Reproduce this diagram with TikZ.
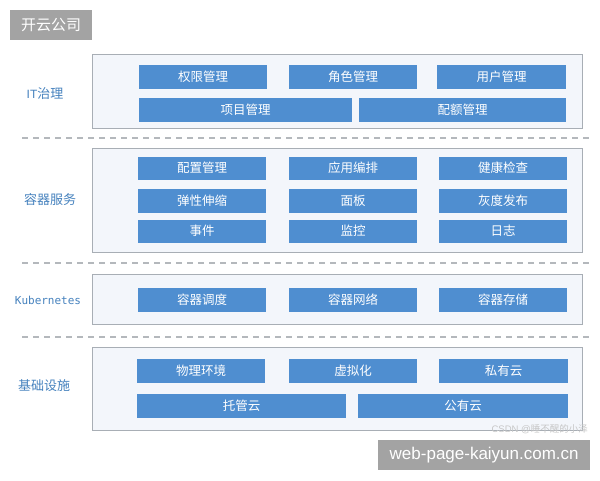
\documentclass[tikz,border=0pt]{standalone}
\usepackage{fontspec}
\setmainfont{Liberation Sans}
\newfontfamily\cjk{Noto Sans CJK SC}
\newfontfamily\monofnt{DejaVu Sans Mono}
\definecolor{blk}{HTML}{4F8ED0}
\definecolor{lbl}{HTML}{4682BE}
\definecolor{frm}{HTML}{A8AEB5}
\definecolor{frmfill}{HTML}{F3F6FB}
\definecolor{dsh}{HTML}{B4B8BC}
\definecolor{wm}{HTML}{A3A3A3}
\tikzset{
  blk/.style={fill=blk, text=white, inner sep=0pt, anchor=north west, minimum height=24pt,
    text height=0.92em, text depth=0.08em,
    font=\cjk\fontsize{12.5}{13}\selectfont},
  frame/.style={draw=frm, line width=0.9pt, fill=frmfill, inner sep=0pt, anchor=north west, minimum width=490pt},
  sep/.style={draw=dsh, line width=1.2pt, dash pattern=on 6pt off 5pt},
  layerlabel/.style={text=lbl, font=\cjk\fontsize{13}{13}\selectfont, inner sep=0pt},
  wmbox/.style={fill=wm, text=white, inner sep=0pt, anchor=north west}
}
\begin{document}
\begin{tikzpicture}[x=1pt,y=-1pt]
\useasboundingbox (0,0) rectangle (600,480);
\fill[white] (0,0) rectangle (600,480);
% watermark top
\node[wmbox, minimum width=82pt, minimum height=30pt, font=\cjk\fontsize{15}{15}\selectfont] (wmtop) at (10,10) {开云公司};
% separators
\coordinate (s1a) at (22,138); \coordinate (s1b) at (590,138);
\coordinate (s2a) at (22,263); \coordinate (s2b) at (590,263);
\coordinate (s3a) at (22,337); \coordinate (s3b) at (590,337);
\draw[sep] (s1a) -- (s1b);
\draw[sep] (s2a) -- (s2b);
\draw[sep] (s3a) -- (s3b);
% frames
\node[frame, minimum height=74pt] (f1) at (92,54) {};
\node[frame, minimum height=104pt] (f2) at (92,148) {};
\node[frame, minimum height=50pt] (f3) at (92,274) {};
\node[frame, minimum height=83pt] (f4) at (92,347) {};
% labels
\node[layerlabel, font=\fontsize{12}{12}\selectfont] (l1) at (45,94) {IT{\cjk\fontsize{13}{13}\selectfont 治理}};
\node[layerlabel] (l2) at (50,200) {容器服务};
\node[layerlabel, font=\monofnt\fontsize{11}{11}\selectfont] (l3) at (48,300) {Kubernetes};
\node[layerlabel] (l4) at (44,386) {基础设施};
% layer 1
\node[blk, minimum width=128pt] (a1) at (139,65) {权限管理};
\node[blk, minimum width=128pt] (a2) at (289,65) {角色管理};
\node[blk, minimum width=129pt] (a3) at (437,65) {用户管理};
\node[blk, minimum width=213pt] (a4) at (139,98) {项目管理};
\node[blk, minimum width=207pt] (a5) at (359,98) {配额管理};
% layer 2
\node[blk, minimum width=128pt, minimum height=23pt] (b1) at (138,157) {配置管理};
\node[blk, minimum width=128pt, minimum height=23pt] (b2) at (289,157) {应用编排};
\node[blk, minimum width=128pt, minimum height=23pt] (b3) at (439,157) {健康检查};
\node[blk, minimum width=128pt] (b4) at (138,189) {弹性伸缩};
\node[blk, minimum width=128pt] (b5) at (289,189) {面板};
\node[blk, minimum width=128pt] (b6) at (439,189) {灰度发布};
\node[blk, minimum width=128pt, minimum height=23pt] (b7) at (138,220) {事件};
\node[blk, minimum width=128pt, minimum height=23pt] (b8) at (289,220) {监控};
\node[blk, minimum width=128pt, minimum height=23pt] (b9) at (439,220) {日志};
% layer 3
\node[blk, minimum width=128pt] (c1) at (138,288) {容器调度};
\node[blk, minimum width=128pt] (c2) at (289,288) {容器网络};
\node[blk, minimum width=128pt] (c3) at (439,288) {容器存储};
% layer 4
\node[blk, minimum width=128pt] (d1) at (137,359) {物理环境};
\node[blk, minimum width=128pt] (d2) at (289,359) {虚拟化};
\node[blk, minimum width=129pt] (d3) at (439,359) {私有云};
\node[blk, minimum width=209pt] (d4) at (137,394) {托管云};
\node[blk, minimum width=210pt] (d5) at (358,394) {公有云};
% watermarks bottom
\node[text=black!22, font=\fontsize{9.5}{9.5}\selectfont, anchor=east, inner sep=0pt] (csdn) at (588,429) {CSDN @{\cjk 睡不醒的小泽}};
\node[wmbox, minimum width=212pt, minimum height=30pt, font=\fontsize{17}{17}\selectfont] (wmbot) at (378,440) {web-page-kaiyun.com.cn};
\end{tikzpicture}
\end{document}
